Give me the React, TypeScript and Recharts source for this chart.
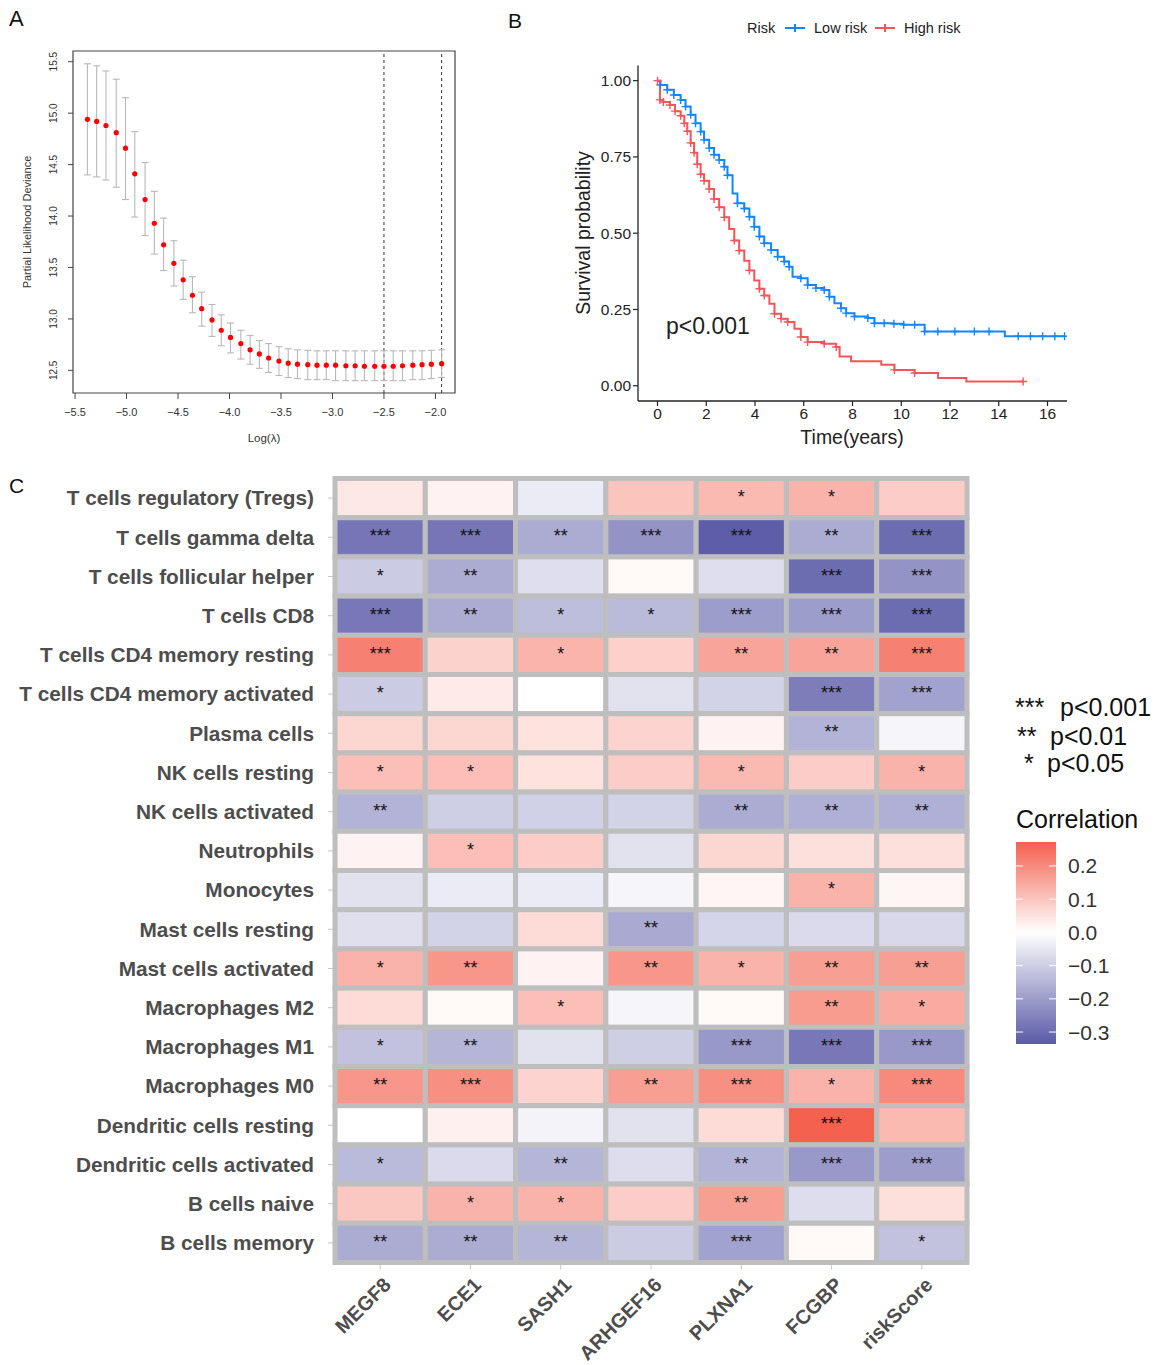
import React from 'react';
import {
  ScatterChart, Scatter, LineChart, Line, XAxis, YAxis, ErrorBar,
  ReferenceLine, ReferenceArea,
} from 'recharts';

const FONT = '"Liberation Sans", Arial, Helvetica, sans-serif';

// ---------- A: cross-validated partial likelihood deviance ----------
const logLambda = [-5.38, -5.29, -5.20, -5.10, -5.01, -4.92, -4.82, -4.73, -4.64, -4.54, -4.45, -4.36, -4.27, -4.17, -4.08, -3.99, -3.89, -3.80, -3.71, -3.62, -3.52, -3.43, -3.34, -3.24, -3.15, -3.06, -2.97, -2.87, -2.78, -2.69, -2.59, -2.50, -2.41, -2.32, -2.22, -2.13, -2.04, -1.94];
const cvMean = [14.94, 14.92, 14.88, 14.81, 14.66, 14.41, 14.16, 13.93, 13.72, 13.54, 13.38, 13.23, 13.10, 12.99, 12.89, 12.82, 12.76, 12.70, 12.66, 12.62, 12.59, 12.57, 12.56, 12.555, 12.55, 12.55, 12.55, 12.545, 12.545, 12.54, 12.54, 12.54, 12.54, 12.545, 12.55, 12.555, 12.56, 12.565];
const cvUpper = [15.48, 15.46, 15.41, 15.33, 15.15, 14.82, 14.52, 14.24, 13.98, 13.76, 13.57, 13.41, 13.26, 13.14, 13.04, 12.96, 12.89, 12.84, 12.79, 12.76, 12.73, 12.71, 12.70, 12.695, 12.69, 12.69, 12.69, 12.69, 12.69, 12.69, 12.69, 12.69, 12.69, 12.69, 12.69, 12.69, 12.695, 12.70];
const cvLower = [14.40, 14.38, 14.35, 14.28, 14.16, 13.99, 13.81, 13.63, 13.47, 13.32, 13.19, 13.06, 12.93, 12.83, 12.74, 12.67, 12.61, 12.56, 12.52, 12.48, 12.45, 12.43, 12.42, 12.41, 12.41, 12.41, 12.40, 12.40, 12.40, 12.40, 12.40, 12.40, 12.40, 12.40, 12.41, 12.41, 12.42, 12.43];
const nonzeroCounts = [215, 198, 186, 165, 131, 94, 71, 48, 31, 18, 9, 6, 5, 2, 0];
const nonzeroAt = [0, 3, 6, 9, 12, 15, 18, 21, 24, 27, 29, 31, 33, 35, 37];
const lambdaMin = -2.5;
const lambda1se = -1.94;
const aXTicks = [-5.5, -5, -4.5, -4, -3.5, -3, -2.5, -2];
const aYTicks = [12.5, 13, 13.5, 14, 14.5, 15, 15.5];
const aXDomain = [-5.52, -1.81];
const aYDomain = [12.28, 15.604];

// ---------- B: Kaplan-Meier by risk group ----------
const lowTime = [0, 0.12, 0.4, 0.67, 0.95, 1.15, 1.36, 1.56, 1.77, 1.91, 2.12, 2.32, 2.53, 2.74, 2.87, 3.08, 3.28, 3.56, 3.77, 3.97, 4.18, 4.38, 4.66, 4.93, 5.2, 5.4, 5.54, 5.88, 6.16, 6.5, 6.84, 7.05, 7.26, 7.53, 7.74, 8.08, 8.63, 8.9, 9.3, 9.7, 10.1, 10.55, 10.96, 11.5, 12.2, 13.0, 13.6, 14.25, 14.8, 15.3, 15.8, 16.3, 16.7];
const lowSurv = [1.0, 0.986, 0.97, 0.953, 0.937, 0.915, 0.888, 0.86, 0.833, 0.806, 0.779, 0.757, 0.74, 0.718, 0.69, 0.63, 0.598, 0.581, 0.554, 0.521, 0.489, 0.467, 0.445, 0.423, 0.407, 0.39, 0.357, 0.352, 0.33, 0.32, 0.314, 0.292, 0.27, 0.254, 0.238, 0.227, 0.222, 0.205, 0.205, 0.203, 0.2, 0.2, 0.178, 0.178, 0.178, 0.178, 0.178, 0.162, 0.162, 0.162, 0.162, 0.162, 0.162];
const lowCensor = [0, 1, 1, 1, 1, 1, 1, 1, 1, 1, 1, 1, 1, 1, 1, 0, 1, 1, 1, 1, 1, 1, 1, 1, 1, 1, 0, 1, 1, 1, 1, 1, 0, 1, 1, 1, 1, 1, 1, 1, 1, 1, 1, 1, 1, 1, 1, 0, 1, 1, 1, 1, 1];
const highTime = [0, 0.1, 0.24, 0.51, 0.72, 0.95, 1.1, 1.22, 1.36, 1.5, 1.63, 1.77, 1.91, 2.12, 2.32, 2.53, 2.74, 2.94, 3.15, 3.35, 3.56, 3.77, 3.97, 4.18, 4.38, 4.59, 4.8, 5.07, 5.34, 5.62, 5.88, 6.16, 6.84, 7.33, 7.47, 7.94, 9.18, 9.72, 10.55, 11.51, 12.67, 15.0];
const highSurv = [1.0, 0.937, 0.93, 0.92, 0.9, 0.885, 0.86, 0.834, 0.796, 0.764, 0.726, 0.693, 0.672, 0.645, 0.612, 0.585, 0.552, 0.514, 0.476, 0.443, 0.41, 0.378, 0.345, 0.318, 0.296, 0.269, 0.236, 0.22, 0.209, 0.187, 0.16, 0.143, 0.138, 0.127, 0.096, 0.08, 0.069, 0.052, 0.042, 0.025, 0.014, 0.014];
const highCensor = [1, 1, 1, 1, 1, 1, 1, 1, 1, 1, 1, 1, 1, 1, 1, 1, 1, 0, 1, 1, 0, 1, 0, 1, 1, 0, 1, 1, 1, 0, 1, 1, 1, 1, 0, 0, 0, 1, 1, 0, 0, 1];
const kmXTicks = [0, 2, 4, 6, 8, 10, 12, 14, 16];
const kmYTicks = [0, 0.25, 0.5, 0.75, 1];
const BLUE = '#1487FF';
const RED = '#F5555A';

// ---------- C: correlation heatmap ----------
const immuneCells = [
  'T cells regulatory (Tregs)', 'T cells gamma delta', 'T cells follicular helper', 'T cells CD8',
  'T cells CD4 memory resting', 'T cells CD4 memory activated', 'Plasma cells', 'NK cells resting',
  'NK cells activated', 'Neutrophils', 'Monocytes', 'Mast cells resting', 'Mast cells activated',
  'Macrophages M2', 'Macrophages M1', 'Macrophages M0', 'Dendritic cells resting',
  'Dendritic cells activated', 'B cells naive', 'B cells memory',
];
const genes = ['MEGF8', 'ECE1', 'SASH1', 'ARHGEF16', 'PLXNA1', 'FCGBP', 'riskScore'];
const corr = [
  [0.04, 0.02, -0.04, 0.10, 0.12, 0.13, 0.085],
  [-0.28, -0.28, -0.17, -0.22, -0.33, -0.17, -0.30],
  [-0.105, -0.17, -0.067, 0.01, -0.067, -0.30, -0.22],
  [-0.275, -0.17, -0.135, -0.14, -0.20, -0.20, -0.30],
  [0.215, 0.077, 0.128, 0.08, 0.155, 0.155, 0.215],
  [-0.105, 0.036, 0.0, -0.06, -0.09, -0.265, -0.19],
  [0.07, 0.07, 0.05, 0.075, 0.02, -0.155, -0.02],
  [0.11, 0.11, 0.05, 0.085, 0.12, 0.085, 0.13],
  [-0.155, -0.10, -0.095, -0.09, -0.17, -0.16, -0.16],
  [0.02, 0.11, 0.085, -0.06, 0.07, 0.055, 0.055],
  [-0.06, -0.04, -0.04, -0.02, 0.015, 0.13, 0.015],
  [-0.065, -0.09, 0.06, -0.175, -0.085, -0.075, -0.08],
  [0.13, 0.18, 0.02, 0.18, 0.13, 0.165, 0.165],
  [0.06, 0.01, 0.11, -0.02, 0.01, 0.17, 0.145],
  [-0.125, -0.15, -0.06, -0.10, -0.21, -0.275, -0.21],
  [0.18, 0.19, 0.075, 0.165, 0.19, 0.13, 0.20],
  [0.0, 0.025, -0.025, -0.06, 0.06, 0.27, 0.12],
  [-0.14, -0.075, -0.15, -0.07, -0.155, -0.21, -0.20],
  [0.095, 0.13, 0.13, 0.085, 0.165, -0.07, 0.055],
  [-0.17, -0.17, -0.15, -0.105, -0.19, 0.01, -0.125],
];
const signif = [
  ['', '', '', '', '*', '*', ''],
  ['***', '***', '**', '***', '***', '**', '***'],
  ['*', '**', '', '', '', '***', '***'],
  ['***', '**', '*', '*', '***', '***', '***'],
  ['***', '', '*', '', '**', '**', '***'],
  ['*', '', '', '', '', '***', '***'],
  ['', '', '', '', '', '**', ''],
  ['*', '*', '', '', '*', '', '*'],
  ['**', '', '', '', '**', '**', '**'],
  ['', '*', '', '', '', '', ''],
  ['', '', '', '', '', '*', ''],
  ['', '', '', '**', '', '', ''],
  ['*', '**', '', '**', '*', '**', '**'],
  ['', '', '*', '', '', '**', '*'],
  ['*', '**', '', '', '***', '***', '***'],
  ['**', '***', '', '**', '***', '*', '***'],
  ['', '', '', '', '', '***', ''],
  ['*', '', '**', '', '**', '***', '***'],
  ['', '*', '*', '', '**', '', ''],
  ['**', '**', '**', '', '***', '', '*'],
];
const corrMin = -0.336;
const corrMax = 0.272;
const colorbarTicks = [0.2, 0.1, 0.0, -0.1, -0.2, -0.3];
const LOW = [90, 90, 168];
const HIGH = [244, 96, 78];

function corrColor(v: number) {
  const c = v >= 0 ? HIGH : LOW;
  const t = v >= 0 ? Math.min(v / corrMax, 1) : Math.min(v / corrMin, 1);
  return `rgb(${c.map(k => Math.round(255 + (k - 255) * t)).join(',')})`;
}

const minus = (s: string) => s.replace('-', '\u2212');

// ---------- panel A ----------
const cvData = logLambda.map((x, i) => ({
  x,
  y: cvMean[i],
  err: [cvMean[i] - cvLower[i], cvUpper[i] - cvMean[i]],
}));
const topTicks = nonzeroAt.map(i => logLambda[i]);

const RotatedYTick = (props: any) => {
  const { x, y, payload } = props;
  return (
    <text x={x} y={y} transform={`rotate(-90, ${x}, ${y})`} textAnchor="middle" fontSize={10} fill="#333" fontFamily={FONT}>
      {payload.value.toFixed(1)}
    </text>
  );
};

function PanelA() {
  return (
    <ScatterChart width={470} height={460} margin={{ top: 31, right: 15, bottom: 37, left: 43 }}>
      <XAxis xAxisId="bottom" type="number" dataKey="x" domain={aXDomain} ticks={aXTicks} allowDataOverflow height={30}
        axisLine={false} tickSize={6} tickMargin={9} tickLine={{ stroke: '#444' }}
        tick={{ fontSize: 11, fill: '#333', fontFamily: FONT }} tickFormatter={(v: number) => minus(v.toFixed(1))} />
      <XAxis xAxisId="top" orientation="top" type="number" domain={aXDomain} ticks={topTicks} allowDataOverflow height={20}
        axisLine={false} tickLine={false} tickSize={0} tickMargin={16} interval={0}
        tick={{ fontSize: 11, fill: '#333', fontFamily: FONT }}
        tickFormatter={(v: number) => String(nonzeroCounts[topTicks.indexOf(v)])} />
      <YAxis type="number" dataKey="y" domain={aYDomain} ticks={aYTicks} allowDataOverflow width={30}
        axisLine={false} tickSize={5} tickMargin={10.5} tickLine={{ stroke: '#444' }} tick={<RotatedYTick />} />
      <ReferenceArea xAxisId="bottom" x1={aXDomain[0]} x2={aXDomain[1]} y1={aYDomain[0]} y2={aYDomain[1]}
        fill="none" stroke="#444" strokeWidth={1.2} fillOpacity={0} />
      <ReferenceLine xAxisId="bottom" x={lambdaMin} stroke="#333" strokeDasharray="3 3" strokeWidth={1} />
      <ReferenceLine xAxisId="bottom" x={lambda1se} stroke="#333" strokeDasharray="3 3" strokeWidth={1} />
      <Scatter xAxisId="bottom" data={cvData} isAnimationActive={false}
        shape={(p: any) => <circle cx={p.cx} cy={p.cy} r={2.6} fill="#FF0000" />}>
        <ErrorBar dataKey="err" direction="y" width={3.5} stroke="#B8B8B8" strokeWidth={1.1} />
      </Scatter>
    </ScatterChart>
  );
}

// ---------- panel B ----------
const lowData = lowTime.map((t, i) => ({ t, s: lowSurv[i], c: lowCensor[i] }));
const highData = highTime.map((t, i) => ({ t, s: highSurv[i], c: highCensor[i] }));

const censorDot = (color: string) => (props: any) => {
  const { cx, cy, payload, index } = props;
  if (!payload.c) return <g key={`n${index}`} />;
  return <path key={`c${index}`} d={`M${cx - 4},${cy}h8M${cx},${cy - 4}v8`} stroke={color} strokeWidth={1.4} fill="none" />;
};

function PanelB() {
  return (
    <LineChart width={520} height={460} margin={{ top: 65.4, right: 13, bottom: 19, left: 20 }}>
      <XAxis type="number" dataKey="t" domain={[-0.8, 16.8]} ticks={kmXTicks} allowDataOverflow height={40}
        axisLine={{ stroke: '#222', strokeWidth: 1.3 }} tickLine={{ stroke: '#222', strokeWidth: 1.2 }} tickSize={5} tickMargin={2}
        tick={{ fontSize: 15.5, fill: '#222', fontFamily: FONT }} interval={0} />
      <YAxis type="number" domain={[-0.05, 1.05]} ticks={kmYTicks} allowDataOverflow width={58}
        axisLine={{ stroke: '#222', strokeWidth: 1.3 }} tickLine={{ stroke: '#222', strokeWidth: 1.2 }} tickSize={5} tickMargin={2}
        tick={{ fontSize: 15.5, fill: '#222', fontFamily: FONT }} tickFormatter={(v: number) => v.toFixed(2)} interval={0} />
      <Line data={lowData} dataKey="s" type="stepAfter" stroke={BLUE} strokeWidth={2} dot={censorDot(BLUE)} activeDot={false} isAnimationActive={false} />
      <Line data={highData} dataKey="s" type="stepAfter" stroke={RED} strokeWidth={2} dot={censorDot(RED)} activeDot={false} isAnimationActive={false} />
    </LineChart>
  );
}

// ---------- panel C ----------
const CELL_W = 632 / 7;
const CELL_H = 784 / 20;
const heatData = corr.flatMap((row, r) => row.map((value, c) => ({ col: c, row: r, value, label: signif[r][c] })));

const HeatCell = (props: any) => {
  const { cx, cy, payload } = props;
  return (
    <g>
      <rect x={cx - CELL_W / 2} y={cy - CELL_H / 2} width={CELL_W} height={CELL_H}
        fill={corrColor(payload.value)} stroke="#BEBEBE" strokeWidth={5} />
      {payload.label ? (
        <text x={cx} y={cy + 5} textAnchor="middle" fontSize={18} fill="#111" fontFamily={FONT}>{payload.label}</text>
      ) : null}
    </g>
  );
};

const GeneTick = (props: any) => {
  const { x, y, payload } = props;
  const px = x + 2;
  return (
    <text x={px} y={y} dy="0.71em" transform={`rotate(-45, ${px}, ${y})`} textAnchor="end"
      fontSize={20} fontWeight="bold" fill="#4D4D4D" fontFamily={FONT}>
      {genes[payload.value]}
    </text>
  );
};

function PanelC() {
  return (
    <ScatterChart width={1000} height={895} margin={{ top: 8.5, right: 33, bottom: 0, left: 0 }}>
      <XAxis type="number" dataKey="col" domain={[-0.5, 6.5]} ticks={[0, 1, 2, 3, 4, 5, 6]} interval={0} height={102.5}
        axisLine={false} tickSize={7} tickMargin={6.5} tickLine={{ stroke: '#C8C8C8' }} tick={<GeneTick />} />
      <YAxis type="number" dataKey="row" domain={[-0.5, 19.5]} reversed ticks={immuneCells.map((_, i) => i)} interval={0} width={335}
        axisLine={false} tickSize={7} tickMargin={14} tickLine={{ stroke: '#C8C8C8' }}
        tick={{ fontSize: 20.8, fontWeight: 'bold', fill: '#4D4D4D', fontFamily: FONT }}
        tickFormatter={(v: number) => immuneCells[v]} />
      <Scatter data={heatData} shape={<HeatCell />} isAnimationActive={false} />
    </ScatterChart>
  );
}

// ---------- annotations ----------
function Overlay() {
  const barTop = 842;
  const barH = 202;
  const barY = (v: number) => barTop + ((corrMax - v) / (corrMax - corrMin)) * barH;
  const gradStops = [corrMax, 0, corrMin];
  return (
    <svg width={1156} height={1365} style={{ position: 'absolute', left: 0, top: 0, pointerEvents: 'none' }} fontFamily={FONT}>
      <defs>
        <linearGradient id="corrGrad" x1="0" y1="0" x2="0" y2="1">
          {gradStops.map(v => (
            <stop key={v} offset={(corrMax - v) / (corrMax - corrMin)} stopColor={corrColor(v)} />
          ))}
        </linearGradient>
      </defs>
      <text x={9} y={26} fontSize={22} fill="#111">A</text>
      <text x={508} y={28} fontSize={21} fill="#111">B</text>
      <text x={9} y={493} fontSize={21} fill="#111">C</text>

      <text x={27} y={222} fontSize={11} fill="#333" textAnchor="middle" dominantBaseline="central"
        transform="rotate(-90 27 222)">Partial Likelihood Deviance</text>
      <text x={264} y={442} fontSize={11.5} fill="#333" textAnchor="middle">Log(λ)</text>

      <text x={583} y={233} fontSize={19.5} fill="#222" textAnchor="middle" dominantBaseline="central"
        transform="rotate(-90 583 233)">Survival probability</text>
      <text x={852} y={444} fontSize={19.5} fill="#222" textAnchor="middle">Time(years)</text>
      <text x={666} y={334} fontSize={23} fill="#222">p&lt;0.001</text>

      <text x={747} y={33} fontSize={14.5} fill="#222">Risk</text>
      <path d="M785,28h20M795,24v8" stroke={BLUE} strokeWidth={2} />
      <text x={814} y={33} fontSize={14.5} fill="#222">Low risk</text>
      <path d="M875,28h20M885,24v8" stroke={RED} strokeWidth={2} />
      <text x={904} y={33} fontSize={14.5} fill="#222">High risk</text>

      <text x={1015} y={716} fontSize={25} fill="#111">***</text>
      <text x={1060} y={716} fontSize={25} fill="#111">p&lt;0.001</text>
      <text x={1017} y={745} fontSize={25} fill="#111">**</text>
      <text x={1050} y={745} fontSize={25} fill="#111">p&lt;0.01</text>
      <text x={1024} y={772} fontSize={25} fill="#111">*</text>
      <text x={1047} y={772} fontSize={25} fill="#111">p&lt;0.05</text>

      <text x={1016} y={828} fontSize={25} fill="#111">Correlation</text>
      <rect x={1016} y={barTop} width={40} height={barH} fill="url(#corrGrad)" />
      {colorbarTicks.map(v => (
        <g key={v}>
          <path d={`M1016,${barY(v)}h7M1049,${barY(v)}h7`} stroke="#fff" strokeWidth={1} />
          <text x={1068} y={barY(v) + 7.5} fontSize={21} fill="#333">{minus(v.toFixed(1))}</text>
        </g>
      ))}
    </svg>
  );
}

export default function App() {
  return (
    <div style={{ position: 'absolute', left: 0, top: 0, width: 1156, height: 1365, background: '#fff', overflow: 'hidden', fontFamily: FONT }}>
      <div style={{ position: 'absolute', left: 0, top: 0 }}><PanelA /></div>
      <div style={{ position: 'absolute', left: 560, top: 0 }}><PanelB /></div>
      <div style={{ position: 'absolute', left: 0, top: 470 }}><PanelC /></div>
      <Overlay />
    </div>
  );
}
